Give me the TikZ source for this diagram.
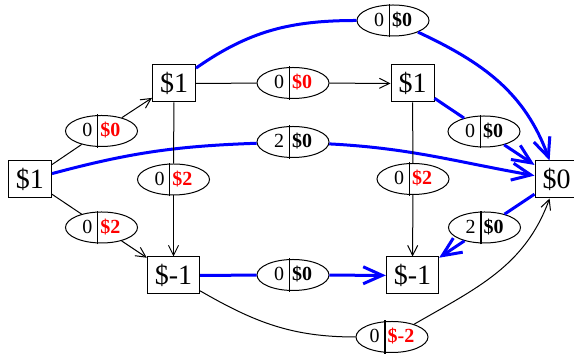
\documentclass[tikz,border=0pt]{standalone}
\usepackage{fontspec}
\setmainfont{Liberation Serif}
\usetikzlibrary{positioning, arrows.meta, shapes.geometric}

\newcommand{\divbar}{\hspace{2.3pt}\smash{\rule[-5.45pt]{0.7pt}{16.8pt}}\hspace{1pt}}
\newcommand{\rd}[1]{\textcolor{red}{\textbf{#1}}}

\begin{document}
\begin{tikzpicture}[x=0.5pt, y=0.5pt,
    state/.style={draw, rectangle, minimum width=21.5pt, minimum height=18.5pt, inner xsep=3.75pt, inner ysep=0pt, line width=0.5pt, font=\fontsize{14}{16}\selectfont},
    cost/.style={draw, ellipse, minimum width=36pt, minimum height=15.5pt, inner sep=0pt, text height=6.8pt, text depth=0.9pt, line width=0.5pt, font=\fontsize{10}{12}\selectfont},
    plain/.style={line width=0.5pt},
    edge/.style={plain, -{Straight Barb[length=5pt, width=5pt]}},
    best/.style={draw=blue, line width=1.5pt},
    bestarrow/.style={best, -{Straight Barb[length=9.5pt, width=8.5pt]}}
    ]
    \useasboundingbox (0,0) rectangle (574,-356);

    % States
    \node[state] (A) at (30,-179.5) {\$1};
    \node[state] (B) at (174,-83.5) {\$1};
    \node[state] (C) at (412.5,-83.5) {\$1};
    \node[state] (D) at (173.5,-275.5) {\$-1};
    \node[state] (E) at (412.5,-275.5) {\$-1};
    \node[state] (F) at (556.5,-179.5) {\$0};

    % Edge costs
    \node[cost] (AB) at (101.5,-131) {0\divbar\rd{\$0}};
    \node[cost] (AD) at (101.5,-227.5) {0\divbar\rd{\$2}};
    \node[cost] (AF) at (293,-142) {2\divbar\textbf{\$0}};
    \node[cost] (BC) at (293,-83) {0\divbar\rd{\$0}};
    \node[cost] (BD) at (173.5,-179.5) {0\divbar\rd{\$2}};
    \node[cost] (BF) at (393,-20.5) {0\divbar\textbf{\$0}};
    \node[cost] (CF) at (484,-131.5) {0\divbar\textbf{\$0}};
    \node[cost] (CE) at (413,-179) {0\divbar\rd{\$2}};
    \node[cost] (DE) at (293,-275) {0\divbar\textbf{\$0}};
    \node[cost] (FE) at (484.5,-227.5) {2\divbar\textbf{\$0}};
    \node[cost] (DF) at (392,-337) {0\divbar\rd{\$-2}};

    % Arrows
    \draw[plain] (A) -- (AB);
    \draw[edge] (AB) -- (B);
    \draw[plain] (A) -- (AD);
    \draw[edge] (AD) -- (D);
    \draw[best] (A) to[out=15, in=182] (AF);
    \draw[bestarrow] (AF) to[out=-3, in=170] (F);

    \draw[plain] (B) -- (BC);
    \draw[edge] (BC) -- (C);
    \draw[plain] (B) -- (BD);
    \draw[edge] (BD) -- (D);
    \draw[best] (B) to[out=35, in=180] (BF);
    \draw[bestarrow] (BF) to[out=-25, in=110] (F);

    \draw[best] (C) -- (CF);
    \draw[bestarrow] (CF) -- (F);
    \draw[plain] (C) -- (CE);
    \draw[edge] (CE) -- (E);

    \draw[best] (D) -- (DE);
    \draw[bestarrow] (DE) -- (E);
    \draw[best] (F) -- (FE);
    \draw[bestarrow] (FE) -- (E);

    \draw[plain] (D) to[out=-30, in=180] (DF);
    \draw[edge] (DF) to[out=30, in=-110] (F);

\end{tikzpicture}
\end{document}
